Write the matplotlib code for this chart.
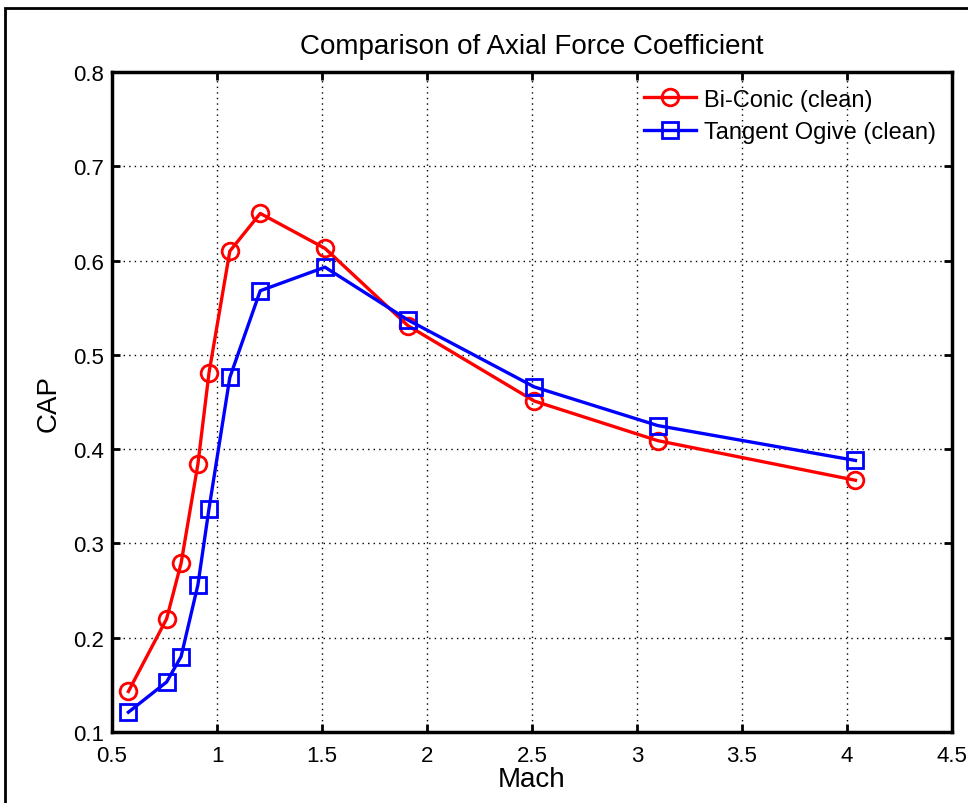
import matplotlib
matplotlib.use("Agg")
import matplotlib.pyplot as plt
from matplotlib.patches import Rectangle

plt.rcParams['font.family'] = ['Liberation Sans', 'DejaVu Sans']

# Mach numbers (same for both configurations)
mach = [0.578, 0.76, 0.829, 0.909, 0.962, 1.061, 1.206, 1.514, 1.909, 2.511, 3.099, 4.04]

# axial force coefficient
cap_biconic = [0.143, 0.220, 0.279, 0.384, 0.481, 0.610, 0.650, 0.613, 0.531, 0.451, 0.409, 0.367]
cap_ogive = [0.121, 0.153, 0.180, 0.256, 0.337, 0.476, 0.568, 0.593, 0.537, 0.466, 0.425, 0.388]

xticks = [0.5, 1, 1.5, 2, 2.5, 3, 3.5, 4, 4.5]
xticklabels = ['0.5', '1', '1.5', '2', '2.5', '3', '3.5', '4', '4.5']
yticks = [0.1, 0.2, 0.3, 0.4, 0.5, 0.6, 0.7, 0.8]

fig = plt.figure(figsize=(9.68, 8.04), dpi=100)
ax = fig.add_axes([0.1157, 0.0883, 0.8678, 0.8209])

ax.plot(mach, cap_biconic, '-o', color='#ff0000', lw=2.4, ms=12,
        mfc='none', mew=2.0, label='Bi-Conic (clean)')
ax.plot(mach, cap_ogive, '-s', color='#0000ff', lw=2.4, ms=11,
        mfc='none', mew=2.0, label='Tangent Ogive (clean)')

ax.set_xlim(0.5, 4.5)
ax.set_ylim(0.1, 0.8)
ax.set_xticks(xticks)
ax.set_xticklabels(xticklabels)
ax.set_yticks(yticks)
ax.tick_params(direction='in', top=True, right=True, length=6, width=2,
               labelsize=16)
ax.tick_params(axis='x', pad=9)
ax.tick_params(axis='y', pad=6)
for s in ax.spines.values():
    s.set_linewidth(2.5)
ax.grid(True, color='black', linestyle=(0, (1, 3)), linewidth=1.0)

ax.set_title('Comparison of Axial Force Coefficient', fontsize=20, pad=14)
ax.set_xlabel('Mach', fontsize=20, labelpad=0)
ax.set_ylabel('CAP', fontsize=20, labelpad=8)

leg = ax.legend(loc='upper right', frameon=False, fontsize=17,
                handlelength=2.2, borderaxespad=0.3, labelspacing=0.45,
                handletextpad=0.3)

# outer frame around the figure
fig.patches.append(Rectangle((5 / 968, -0.1), 1.1, 1.1 - 9 / 804,
                             transform=fig.transFigure, fill=False,
                             edgecolor='black', linewidth=2.0))

fig.savefig('out.png', dpi=100)
